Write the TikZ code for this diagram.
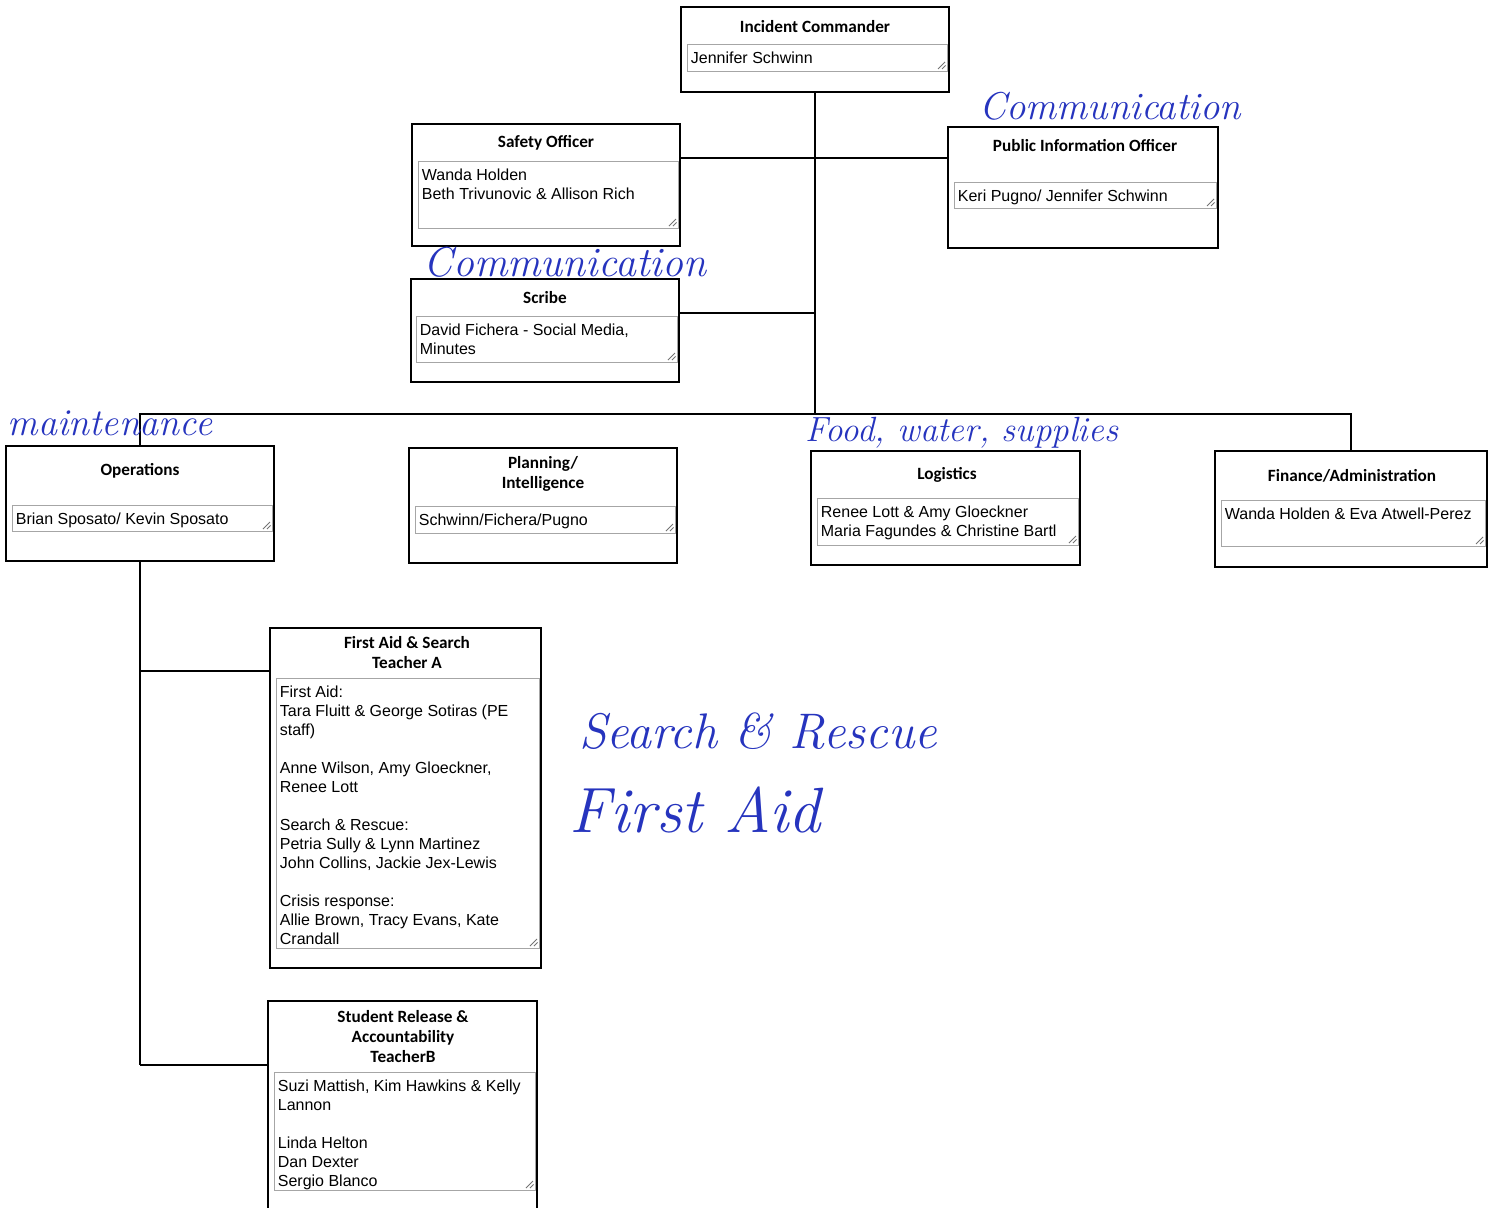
\documentclass[tikz,border=0pt]{standalone}
\usepackage{fontspec}
\usetikzlibrary{fit}
\newfontfamily\headfont{Carlito}
\newfontfamily\bodyfont{Liberation Sans}
\definecolor{inkblue}{RGB}{38,52,190}

\begin{document}
\begin{tikzpicture}
  [x=0.5pt,y=-0.5pt,
   box/.style={draw=black, line width=0.9pt, inner sep=0pt},
   fld/.style={draw=black!35, line width=0.5pt, inner sep=0pt,
     path picture={
       \draw[black!55,line width=0.4pt] ([shift={(-4.5pt,1pt)}]path picture bounding box.south east) -- ++(3.5pt,3.5pt);
       \draw[black!55,line width=0.4pt] ([shift={(-2.5pt,1pt)}]path picture bounding box.south east) -- ++(1.8pt,1.8pt);}},
   head/.style={font=\headfont\bfseries\fontsize{8.6}{10}\selectfont, align=center},
   txt/.style={font=\bodyfont\fontsize{8}{9.5}\selectfont, align=left, anchor=north west, inner xsep=2pt, inner ysep=3.8pt},
   link/.style={draw=black, line width=0.9pt},
   hand/.style={text=inkblue, font=\itshape}]

  \useasboundingbox (0,0) rectangle (1499,1207);
  \clip (0,0) rectangle (1499,1207);

  %%%%%%%%%%%%%%%%%%%%%% COMMAND %%%%%%%%%%%%%%%%%%%%%%

  \node[box, fit={(681,7) (949,92)}] (ic) {};
  \node[head] (ic_t) at (815,27) {Incident Commander};
  \node[fld, fit={(687,44) (947,71)}] (ic_f) {};
  \node[txt] (ic_x) at (ic_f.north west) {Jennifer Schwinn};

  \node[box, fit={(412,124) (680,246)}] (so) {};
  \node[head] (so_t) at (546,143) {Safety Officer};
  \node[fld, fit={(418,161) (678,228)}] (so_f) {};
  \node[txt] (so_x) at (so_f.north west) {Wanda Holden\\Beth Trivunovic \& Allison Rich};

  \node[box, fit={(948,127) (1218,248)}] (pio) {};
  \node[head] (pio_t) at (1085,146) {Public Information Officer};
  \node[fld, fit={(954,182) (1216,208)}] (pio_f) {};
  \node[txt] (pio_x) at (pio_f.north west) {Keri Pugno/ Jennifer Schwinn};

  \node[box, fit={(411,279) (679,382)}] (scr) {};
  \node[head] (scr_t) at (545,298) {Scribe};
  \node[fld, fit={(416,316) (677,362)}] (scr_f) {};
  \node[txt] (scr_x) at (scr_f.north west) {David Fichera - Social Media,\\Minutes};

  %%%%%%%%%%%%%%%%%%%%%% SECTIONS %%%%%%%%%%%%%%%%%%%%%%

  \node[box, fit={(6,446) (274,561)}] (ops) {};
  \node[head] (ops_t) at (140,471) {Operations};
  \node[fld, fit={(12,505) (272,531)}] (ops_f) {};
  \node[txt] (ops_x) at (ops_f.north west) {Brian Sposato/ Kevin Sposato};

  \node[box, fit={(409,448) (677,563)}] (pln) {};
  \node[head] (pln_t) at (543,474) {Planning/\\Intelligence};
  \node[fld, fit={(415,506) (675,533)}] (pln_f) {};
  \node[txt] (pln_x) at (pln_f.north west) {Schwinn/Fichera/Pugno};

  \node[box, fit={(811,451) (1080,565)}] (log) {};
  \node[head] (log_t) at (947,475) {Logistics};
  \node[fld, fit={(817,498) (1078,545)}] (log_f) {};
  \node[txt] (log_x) at (log_f.north west) {Renee Lott \& Amy Gloeckner\\Maria Fagundes \& Christine Bartl};

  \node[box, fit={(1215,451) (1487,567)}] (fin) {};
  \node[head] (fin_t) at (1352,476) {Finance/Administration};
  \node[fld, fit={(1221,500) (1485,546)}] (fin_f) {};
  \node[txt] (fin_x) at (fin_f.north west) {Wanda Holden \& Eva Atwell-Perez};

  %%%%%%%%%%%%%%%%%%%%%% TEAMS %%%%%%%%%%%%%%%%%%%%%%

  \node[box, fit={(270,628) (541,968)}] (aid) {};
  \node[head] (aid_t) at (407,653) {First Aid \& Search\\Teacher A};
  \node[fld, fit={(276,678) (539,948)}] (aid_f) {};
  \node[txt] (aid_x) at (aid_f.north west) {First Aid:\\Tara Fluitt \& George Sotiras (PE\\staff)\\[9.5pt]Anne Wilson, Amy Gloeckner,\\Renee Lott\\[9.5pt]Search \& Rescue:\\Petria Sully \& Lynn Martinez\\John Collins, Jackie Jex-Lewis\\[9.5pt]Crisis response:\\Allie Brown, Tracy Evans, Kate\\Crandall};

  \node[box, fit={(268,1001) (537,1222)}] (rel) {};
  \node[head] (rel_t) at (403,1037) {Student Release \&\\Accountability\\TeacherB};
  \node[fld, fit={(274,1072) (535,1190)}] (rel_f) {};
  \node[txt] (rel_x) at (rel_f.north west) {Suzi Mattish, Kim Hawkins \& Kelly\\Lannon\\[9.5pt]Linda Helton\\Dan Dexter\\Sergio Blanco};

  %%%%%%%%%%%%%%%%%%%%%% LINES %%%%%%%%%%%%%%%%%%%%%%

  \coordinate (bus) at (815,414);
  \draw[link] (ic.south) -- (bus);
  \draw[link] (ops.north) -- (ops.north |- bus) -| (fin.north);
  \draw[link] (so.east |- 0,158) -- (pio.west |- 0,158);
  \draw[link] (scr.east |- 0,313) -- (ic.south |- 0,313);
  \draw[link] (ops.south) -- (ops.south |- 0,1065);

  \foreach \toOps/\yOps in {aid/671,rel/1065}
    \draw[link] (ops.south |- 0,\yOps) -- (\toOps.west |- 0,\yOps);

  %%%%%%%%%%%%%%%%%%%%%% HANDWRITING %%%%%%%%%%%%%%%%%%%%%%

  \node[hand, font=\itshape\fontsize{19.4}{20}\selectfont] (note_pio) at (1110,106) {Communication};
  \node[hand, font=\itshape\fontsize{20.9}{22}\selectfont] (note_scr) at (565,262) {Communication};
  \node[hand, font=\itshape\fontsize{19}{20}\selectfont] (note_ops) at (110,423) {maintenance};
  \node[hand, font=\itshape\fontsize{17.5}{19}\selectfont] (note_log) at (962,433) {Food, water, supplies};
  \node[hand, font=\itshape\fontsize{25}{28}\selectfont] (note_sr) at (758,731) {Search \& Rescue};
  \node[hand, font=\itshape\fontsize{32}{34}\selectfont] (note_fa) at (695,810) {First Aid};

\end{tikzpicture}
\end{document}
